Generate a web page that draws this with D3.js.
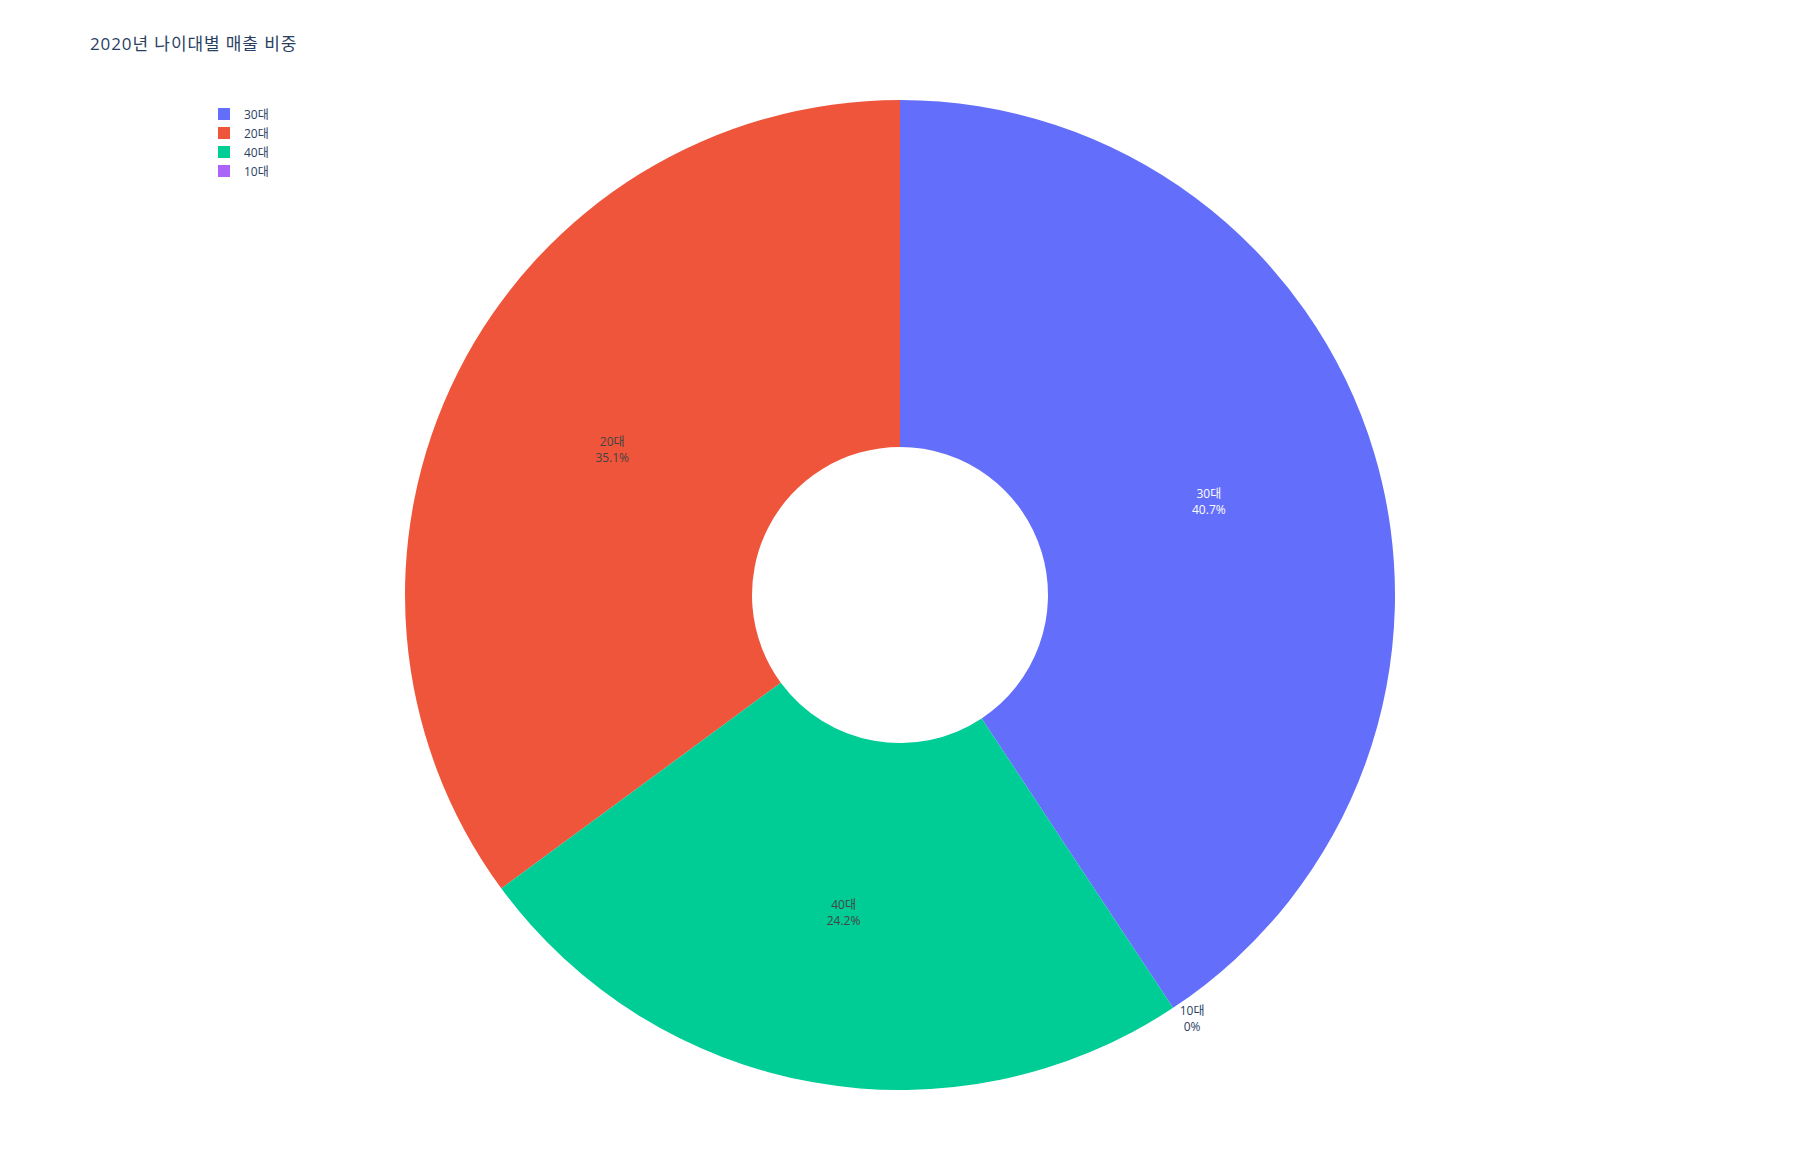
<!DOCTYPE html>
<html>
<head>
<meta charset="utf-8">
<script src="https://cdn.jsdelivr.net/npm/d3@7"></script>
<style>
  html, body { margin: 0; padding: 0; background: #fff; }
  svg { display: block; }
  text { font-family: "Open Sans", "Noto Sans CJK KR", sans-serif; }
</style>
</head>
<body>
<svg id="chart" width="1800" height="1170"></svg>
<script>
const titleText = "2020년 나이대별 매출 비중";
const categories = ["30대", "20대", "40대", "10대"];
const values = [40.7, 35.1, 24.2, 0];
const colors = ["#636efa", "#EF553B", "#00cc96", "#ab63fa"];
const insideTextColors = ["#ffffff", "#444444", "#444444", "#444444"];

const W = 1800, H = 1170;
const cx = 900, cy = 595;
const outerR = 495, innerR = 148;

const svg = d3.select("#chart");

svg.append("text")
  .attr("x", 90).attr("y", 50)
  .attr("font-size", 17)
  .attr("letter-spacing", 0.9)
  .attr("fill", "#2a3f5f")
  .text(titleText);

const data = categories.map((c, i) => ({ cat: c, value: values[i], i }));
const total = d3.sum(values);

// counterclockwise, first slice ends at 12 o'clock
const firstSpan = values[0] / total * 2 * Math.PI;
const start = firstSpan;
const pie = d3.pie().sort(null).value(d => d.value)
  .startAngle(start).endAngle(start - 2 * Math.PI);
const arcs = pie(data);

const arc = d3.arc().innerRadius(innerR).outerRadius(outerR);
const labelArc = d3.arc().innerRadius(150).outerRadius(outerR);
const g = svg.append("g").attr("transform", `translate(${cx},${cy})`);

g.selectAll("path").data(arcs).enter().append("path")
  .attr("d", arc)
  .attr("fill", d => colors[d.data.i]);

const fmt = v => {
  let s = (v * 100).toPrecision(3);
  if (s.indexOf(".") !== -1) s = s.replace(/\.?0+$/, "");
  return s + "%";
};

arcs.forEach(a => {
  const frac = a.data.value / total;
  const mid = (a.startAngle + a.endAngle) / 2;
  let x, y, fill, anchor = "middle";
  if (frac > 0.02) {
    [x, y] = labelArc.centroid(a);
    fill = insideTextColors[a.data.i];
  } else {
    const r = outerR + 20;
    x = r * Math.sin(mid) + 8;
    y = -r * Math.cos(mid) - 6;
    fill = "#2a3f5f";
  }
  const t = g.append("text")
    .attr("text-anchor", anchor)
    .attr("font-size", 12)
    .attr("fill", fill);
  t.append("tspan").attr("x", x).attr("y", y - 8 + 4).text(a.data.cat);
  t.append("tspan").attr("x", x).attr("y", y + 8 + 4).text(fmt(frac));
});

// legend
const legend = svg.append("g").attr("transform", "translate(218,108)");
categories.forEach((c, i) => {
  const row = legend.append("g").attr("transform", `translate(0,${i * 19})`);
  row.append("rect").attr("x", 0).attr("y", 0).attr("width", 12).attr("height", 12)
    .attr("fill", colors[i]);
  row.append("text").attr("x", 26).attr("y", 10.5)
    .attr("font-size", 12).attr("fill", "#2a3f5f").text(c);
});
</script>
</body>
</html>
